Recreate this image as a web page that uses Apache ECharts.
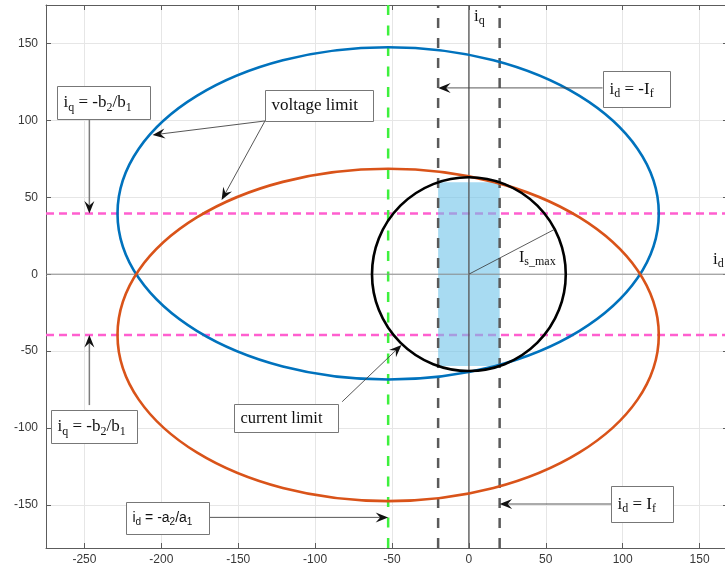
<!DOCTYPE html>
<html>
<head>
<meta charset="utf-8">
<script src="https://cdn.jsdelivr.net/npm/echarts@6/dist/echarts.min.js"></script>
<style>
  html, body { margin: 0; padding: 0; background: #ffffff; }
  #chart { width: 725px; height: 572px; }
</style>
</head>
<body>
<div id="chart"></div>
<script>
// ---- plot window (A) ----
const xLimits = [-275, 168.5];
const yLimits = [-178, 175];
const tickStep = 50;
const xTickLabels = [-250, -200, -150, -100, -50, 0, 50, 100, 150];
const yTickLabels = [-150, -100, -50, 0, 50, 100, 150];

// ---- voltage-limit ellipses: [centre id, centre iq, semi-axis d, semi-axis q] ----
const voltageLimitUpper = [-52.5, 39.5, 176, 108];
const voltageLimitLower = [-52.5, -39.5, 176, 108];

// ---- current-limit circle ----
const currentLimitRadius = 63;
const radiusTip = [55.8, 29.2];

// ---- field-current band id = ±If, bounded by the circle ----
const fieldBandD = [-20, 20];
const fieldBandQ = [-59.7, 59.7];

// ---- reference lines ----
const iqLevels = [39.5, -39.5];   // iq = -b2/b1 (and its mirror)
const idCentre = -52.5;           // id = -a2/a1
const idField = [-20, 20];        // id = -If, id = If

// ---- annotation arrows: tail -> head, in (id, iq) ----
const arrowTails = [[-246.8, 100.6], [-246.8, -85.1], [-132.6, 99.6], [-132.6, 99.6], [-82.4, -82.9], [86.9, 121.1], [-169.1, -158.1], [92.8, -149.4]];
const arrowHeads = [[-246.8, 39.5], [-246.8, -39.5], [-205.7, 90.5], [-160.8, 48.2], [-43.8, -46.0], [-20, 121.1], [-52.5, -158.1], [20, -149.4]];
const arrowSoft = [true, true, false, false, false, false, false, false];

// ---- text boxes: anchor (box centre), text ----
const boxAnchors = [[-237.6, 111.6], [-243.8, -99.0], [-97.4, 109.7], [-118.8, -93.6], [108.8, 120.6], [-196.2, -158.7], [112.8, -149.7]];
const boxTexts = [
  '{i|i}{s|q}{i| = -b}{s|2}{i|/b}{s|1}',
  '{i|i}{s|q}{i| = -b}{s|2}{i|/b}{s|1}',
  '{i|voltage limit}',
  '{c|current limit}',
  '{i|i}{s|d}{i| = -I}{s|f}',
  '{a|i}{b|d}{a| = -a}{b|2}{a|/a}{b|1}',
  '{i|i}{s|d}{i| = I}{s|f}'
];
const boxSizes = [[93, 33], [86, 33], [108, 31], [104, 28], [67, 36], [83, 32], [62, 36]];

// ---- free labels: top-left anchor, text ----
const labelAnchors = [[3.3, 174.4], [158.7, 16.4], [32.6, 17.7]];
const labelTexts = ['{i|i}{s|q}', '{i|i}{s|d}', '{I|I}{s|s_max}'];

const serif = 'Liberation Serif';
const sans = 'Liberation Sans';
const richStyles = {
  i: { fontSize: 17, fontFamily: serif, fill: '#111' },
  c: { fontSize: 16.5, fontFamily: serif, fill: '#111' },
  I: { fontSize: 16, fontFamily: serif, fill: '#111' },
  s: { fontSize: 12, fontFamily: serif, fill: '#111', padding: [9, 0, 0, 0] },
  a: { fontSize: 14, fontFamily: sans, fill: '#111' },
  b: { fontSize: 10, fontFamily: sans, fill: '#111', padding: [8, 0, 0, 0] }
};

const chart = echarts.init(document.getElementById('chart'), null, { renderer: 'canvas', width: 725, height: 572 });

function valueAxis(position, range, main) {
  const horizontal = position === 'bottom' || position === 'top';
  return {
    type: 'value',
    position: position,
    min: range[0],
    max: range[1],
    splitNumber: 9,
    minInterval: tickStep,
    maxInterval: tickStep,
    axisLine: { show: true, onZero: false, lineStyle: { color: '#5c5c5c', width: 1 } },
    axisTick: { show: true, inside: true, length: 5, lineStyle: { color: '#5c5c5c', width: 1 } },
    axisLabel: {
      show: main,
      color: '#383838',
      fontSize: 12,
      fontFamily: sans,
      margin: horizontal ? 6 : 8,
      formatter: function (v) {
        const list = horizontal ? xTickLabels : yTickLabels;
        return list.indexOf(v) >= 0 ? String(v) : '';
      }
    },
    splitLine: { show: main, lineStyle: { color: '#e6e6e6', width: 1 } }
  };
}

function straight(data, color, width, dash, z) {
  return {
    type: 'line', data: data, symbol: 'none', silent: true, z: z, clip: false,
    lineStyle: { color: color, width: width, type: dash }
  };
}
const hLine = (q) => [[xLimits[0], q], [xLimits[1], q]];
const vLine = (d) => [[d, yLimits[0]], [d, yLimits[1]]];

function ellipseSeries(params, color, z) {
  return {
    type: 'custom', coordinateSystem: 'cartesian2d', silent: true, z: z,
    data: [params],
    renderItem: function (p, api) {
      const c = api.coord([api.value(0), api.value(1)]);
      const ex = api.coord([api.value(0) + api.value(2), api.value(1)]);
      const ey = api.coord([api.value(0), api.value(1) + api.value(3)]);
      return {
        type: 'ellipse',
        shape: { cx: c[0], cy: c[1], rx: Math.abs(ex[0] - c[0]), ry: Math.abs(ey[1] - c[1]) },
        style: { fill: 'none', stroke: color, lineWidth: 2.6 }
      };
    }
  };
}

const series = [];

// iq = ±b2/b1 lines (under the band)
iqLevels.forEach(function (q) { series.push(straight(hLine(q), '#ff5fcf', 2.5, [8, 5], 2)); });

// shaded band between id = -If and id = If inside the circle
series.push({
  type: 'custom', coordinateSystem: 'cartesian2d', silent: true, z: 3,
  data: [[fieldBandD[0], fieldBandQ[1], fieldBandD[1], fieldBandQ[0]]],
  renderItem: function (p, api) {
    const a = api.coord([api.value(0), api.value(1)]);
    const b = api.coord([api.value(2), api.value(3)]);
    return {
      type: 'rect',
      shape: { x: a[0], y: a[1], width: b[0] - a[0], height: b[1] - a[1] },
      style: { fill: '#6ec3e9', opacity: 0.6 }
    };
  }
});

// id = ±If dashed lines, id = -a2/a1 line
idField.forEach(function (d) { series.push(straight(vLine(d), '#5a5a5a', 2.5, [10, 10], 4)); });
series.push(straight(vLine(idCentre), '#3ef03e', 2.5, [10, 10.5], 4));

// coordinate axes through the origin
series.push(straight(vLine(0), '#575757', 1.3, 'solid', 4));
series.push(straight(hLine(0), '#8c8c8c', 1, 'solid', 4));

// voltage-limit ellipses
series.push(ellipseSeries(voltageLimitUpper, '#0072bd', 5));
series.push(ellipseSeries(voltageLimitLower, '#d95319', 5));

// current-limit circle
series.push({
  type: 'custom', coordinateSystem: 'cartesian2d', silent: true, z: 6,
  data: [[0, 0, currentLimitRadius]],
  renderItem: function (p, api) {
    const c = api.coord([api.value(0), api.value(1)]);
    const e = api.coord([api.value(0) + api.value(2), api.value(1)]);
    return {
      type: 'circle',
      shape: { cx: c[0], cy: c[1], r: Math.abs(e[0] - c[0]) },
      style: { fill: 'none', stroke: '#000000', lineWidth: 2.6 }
    };
  }
});
series.push(straight([[0, 0], radiusTip], '#333333', 0.8, 'solid', 6));

// annotation arrows
series.push({
  type: 'custom', coordinateSystem: 'cartesian2d', silent: true, z: 10, clip: false,
  data: arrowTails.map(function (t, i) { return [t[0], t[1], arrowHeads[i][0], arrowHeads[i][1]]; }),
  renderItem: function (p, api) {
    const p0 = api.coord([api.value(0), api.value(1)]);
    const p1 = api.coord([api.value(2), api.value(3)]);
    const ang = Math.atan2(p1[1] - p0[1], p1[0] - p0[0]);
    const cs = Math.cos(ang), sn = Math.sin(ang);
    const L = 12.5, W = 5, N = 8;
    const pt = function (u, v) { return [p1[0] + u * cs - v * sn, p1[1] + u * sn + v * cs]; };
    const tail = pt(-N, 0);
    const soft = arrowSoft[p.dataIndex];
    return {
      type: 'group',
      children: [
        { type: 'line', shape: { x1: p0[0], y1: p0[1], x2: tail[0], y2: tail[1] },
          style: { stroke: soft ? '#7d7d7d' : '#444444', lineWidth: soft ? 1.5 : 0.9 } },
        { type: 'polygon', shape: { points: [pt(0, 0), pt(-L, -W), pt(-N, 0), pt(-L, W)] },
          style: { fill: '#111111' } }
      ]
    };
  }
});

// text boxes
series.push({
  type: 'custom', coordinateSystem: 'cartesian2d', silent: true, z: 11, clip: false,
  data: boxAnchors,
  renderItem: function (p, api) {
    const c = api.coord([api.value(0), api.value(1)]);
    const sz = boxSizes[p.dataIndex];
    const x0 = Math.round(c[0] - sz[0] / 2) + 0.5;
    const y0 = Math.round(c[1] - sz[1] / 2) + 0.5;
    return {
      type: 'group',
      children: [
        { type: 'rect', shape: { x: x0, y: y0, width: sz[0], height: sz[1] },
          style: { fill: '#ffffff', stroke: '#777777', lineWidth: 1 } },
        { type: 'text', x: x0 + 6, y: y0 + sz[1] / 2,
          style: { text: boxTexts[p.dataIndex], rich: richStyles, align: 'left', verticalAlign: 'middle',
                   fill: '#111', fontSize: 17, fontFamily: serif } }
      ]
    };
  }
});

// free labels
series.push({
  type: 'custom', coordinateSystem: 'cartesian2d', silent: true, z: 11, clip: false,
  data: labelAnchors,
  renderItem: function (p, api) {
    const c = api.coord([api.value(0), api.value(1)]);
    return {
      type: 'text', x: c[0], y: c[1],
      style: { text: labelTexts[p.dataIndex], rich: richStyles, align: 'left', verticalAlign: 'top',
               fill: '#111', fontSize: 16, fontFamily: serif }
    };
  }
});

chart.setOption({
  animation: false,
  backgroundColor: '#ffffff',
  grid: { left: 46, top: 5, width: 682, height: 543, outerBoundsMode: 'none', containLabel: false },
  xAxis: [valueAxis('bottom', xLimits, true), valueAxis('top', xLimits, false)],
  yAxis: [valueAxis('left', yLimits, true), valueAxis('right', yLimits, false)],
  series: series
});
</script>
</body>
</html>
